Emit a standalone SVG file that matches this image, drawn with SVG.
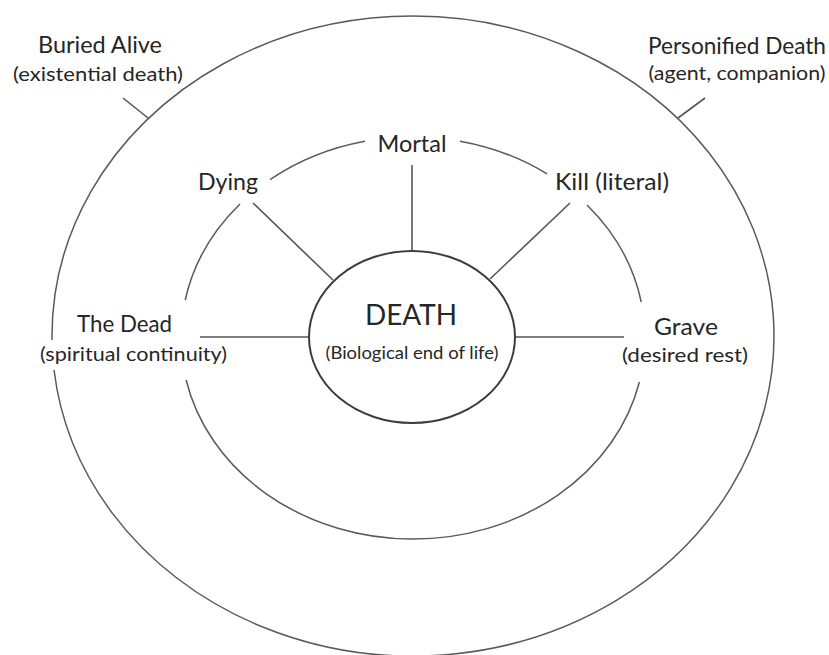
<svg xmlns="http://www.w3.org/2000/svg" width="829" height="655" viewBox="0 0 829 655">
<style>
.ring{fill:none;stroke:#5a5a5a;stroke-width:1.5}
.core{fill:#fff;stroke:#3c3c3c;stroke-width:2}
.link{stroke:#555;stroke-width:1.6;fill:none}
text{font-family:"Lato","Open Sans","Noto Sans",sans-serif;fill:#262626;text-anchor:middle}
.main{font-size:23px}
.sub{font-size:20px}
.big{font-size:29px}
.small{font-size:18px}
</style>
<rect width="829" height="655" fill="#fff"/>
<g id="rings">
<path id="outer-ring" class="ring" d="M 54.04 370 A 361 320 0 1 0 52.03 340"/>
<path id="middle-ring" class="ring" d="M 460 141.17 A 232 201 0 0 1 547 173.9 M 587 205.05 A 232 201 0 0 1 641.25 302 M 639.4 382 A 232 201 0 0 1 186.1 380 M 185.2 300 A 232 201 0 0 1 240 204.08 M 270 179.72 A 232 201 0 0 1 365 141.35"/>
</g>
<g id="connectors">
<line class="link" x1="412" y1="165" x2="412" y2="251"/>
<line class="link" x1="253" y1="203" x2="333" y2="280"/>
<line class="link" x1="570" y1="203" x2="490" y2="279"/>
<line class="link" x1="200" y1="337" x2="310" y2="337"/>
<line class="link" x1="515" y1="337" x2="624" y2="337"/>
<line class="link" x1="123" y1="98" x2="148" y2="118"/>
<line class="link" x1="705" y1="98" x2="678" y2="118"/>
</g>
<g id="death">
<ellipse class="core" cx="412" cy="337" rx="103" ry="86"/>
<text class="big" x="411" y="325" textLength="92" lengthAdjust="spacingAndGlyphs">DEATH</text>
<text class="small" x="412" y="359" textLength="173" lengthAdjust="spacingAndGlyphs">(Biological end of life)</text>
</g>
<g id="mortal">
<text class="main" x="412" y="152" textLength="69" lengthAdjust="spacingAndGlyphs">Mortal</text>
</g>
<g id="dying">
<text class="main" x="228" y="190" textLength="60" lengthAdjust="spacingAndGlyphs">Dying</text>
</g>
<g id="kill">
<text class="main" x="612" y="190" textLength="114" lengthAdjust="spacingAndGlyphs">Kill (literal)</text>
</g>
<g id="the-dead">
<text class="main" x="124.5" y="332" textLength="95" lengthAdjust="spacingAndGlyphs">The Dead</text>
<text class="sub" x="133.5" y="361" textLength="187" lengthAdjust="spacingAndGlyphs">(spiritual continuity)</text>
</g>
<g id="grave">
<text class="main" x="686" y="335" textLength="64" lengthAdjust="spacingAndGlyphs">Grave</text>
<text class="sub" x="685" y="362" textLength="126" lengthAdjust="spacingAndGlyphs">(desired rest)</text>
</g>
<g id="buried-alive">
<text class="main" x="100" y="53" textLength="124" lengthAdjust="spacingAndGlyphs">Buried Alive</text>
<text class="sub" x="98" y="81" textLength="170" lengthAdjust="spacingAndGlyphs">(existential death)</text>
</g>
<g id="personified-death">
<text class="main" x="737" y="54" textLength="178" lengthAdjust="spacingAndGlyphs">Personified Death</text>
<text class="sub" x="737" y="80" textLength="177" lengthAdjust="spacingAndGlyphs">(agent, companion)</text>
</g>
</svg>
